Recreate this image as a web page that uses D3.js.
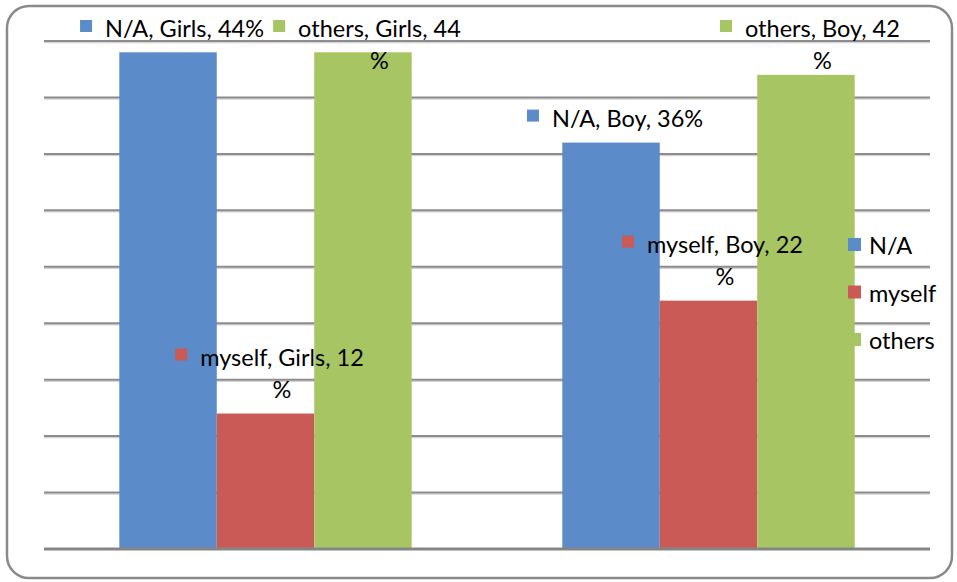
<!DOCTYPE html>
<html>
<head>
<meta charset="utf-8">
<script src="https://cdn.jsdelivr.net/npm/d3@7"></script>
<style>
  html, body { margin: 0; padding: 0; background: #fff; }
  svg { display: block; font-family: Lato, "Open Sans", sans-serif; }
</style>
</head>
<body>
<svg id="chart" width="957" height="582"></svg>
<script>
'use strict';

// chart data
const categories = ['Girls', 'Boy'];
const seriesNames = ['N/A', 'myself', 'others'];
const seriesColors = ['#5B8BC8', '#C95A55', '#A7C663'];
const girlsValues = [44, 12, 44];
const boyValues = [36, 22, 42];
const yTicks = [0, 5, 10, 15, 20, 25, 30, 35, 40, 45];

const valuesByCat = { Girls: girlsValues, Boy: boyValues };

const svg = d3.select('#chart');
const fontSize = 23.5;

// outer frame
svg.append('rect')
  .attr('x', 7).attr('y', 6)
  .attr('width', 945).attr('height', 572)
  .attr('rx', 22).attr('ry', 22)
  .attr('fill', '#fff')
  .attr('stroke', '#8a8a8a')
  .attr('stroke-width', 2.5);

const x0 = d3.scaleBand()
  .domain(categories)
  .range([44, 930])
  .paddingInner(0.34)
  .paddingOuter(0.17);

const x1 = d3.scaleBand()
  .domain(seriesNames)
  .range([0, x0.bandwidth()]);

const y = d3.scaleLinear()
  .domain([0, 45])
  .range([549, 41]);

// gridlines (with a soft shadow under each)
const grid = svg.append('g');
grid.selectAll('line.shadow')
  .data(yTicks.slice(1))
  .enter().append('line')
  .attr('class', 'shadow')
  .attr('x1', 44).attr('x2', 930)
  .attr('y1', d => y(d) + 1.5).attr('y2', d => y(d) + 1.5)
  .attr('stroke', '#d4d4d4')
  .attr('stroke-width', 1.5);
grid.selectAll('line.main')
  .data(yTicks.slice(1))
  .enter().append('line')
  .attr('class', 'main')
  .attr('x1', 44).attr('x2', 930)
  .attr('y1', d => y(d)).attr('y2', d => y(d))
  .attr('stroke', '#8c8c8c')
  .attr('stroke-width', 2);

// bars
const groups = svg.append('g').selectAll('g')
  .data(categories)
  .enter().append('g')
  .attr('transform', d => 'translate(' + x0(d) + ',0)');

groups.selectAll('rect')
  .data(c => seriesNames.map((s, i) => ({ cat: c, series: s, value: valuesByCat[c][i], color: seriesColors[i] })))
  .enter().append('rect')
  .attr('x', d => x1(d.series))
  .attr('y', d => y(d.value))
  .attr('width', x1.bandwidth())
  .attr('height', d => y(0) - y(d.value))
  .attr('fill', d => d.color);

// baseline
svg.append('line')
  .attr('x1', 44).attr('x2', 930)
  .attr('y1', y(0)).attr('y2', y(0))
  .attr('stroke', '#858585')
  .attr('stroke-width', 3);

// data labels: "series, category, value%" with a colour key square
const labelData = [];
categories.forEach(c => {
  seriesNames.forEach((s, i) => {
    labelData.push({ cat: c, series: s, value: valuesByCat[c][i], color: seriesColors[i] });
  });
});

const labels = svg.append('g');
labelData.forEach(d => {
  const cx = x0(d.cat) + x1(d.series) + x1.bandwidth() / 2 + 4;
  const top = y(d.value);
  const g = labels.append('g');
  const full = d.series + ', ' + d.cat + ', ' + d.value + '%';
  const t = g.append('text')
    .attr('font-size', fontSize)
    .attr('fill', '#000')
    .attr('dominant-baseline', 'central')
    .text(full);
  let wrapped = false;
  // long labels push the % sign onto a second line
  if (t.node().getComputedTextLength() > 168) {
    wrapped = true;
    t.text(d.series + ', ' + d.cat + ', ' + d.value);
  }
  const tw = t.node().getComputedTextLength();
  const total = 12 + 13 + tw;
  const left = cx - total / 2;
  let yLine1 = wrapped ? top - 25 - 32 : top - 25;
  yLine1 = Math.max(yLine1, 28);
  g.append('rect')
    .attr('x', left).attr('y', yLine1 - 8)
    .attr('width', 12).attr('height', 12)
    .attr('fill', d.color);
  t.attr('x', left + 25).attr('y', yLine1);
  if (wrapped) {
    g.append('text')
      .attr('font-size', fontSize)
      .attr('fill', '#000')
      .attr('dominant-baseline', 'central')
      .attr('text-anchor', 'middle')
      .attr('x', left + 25 + tw / 2)
      .attr('y', yLine1 + 32)
      .text('%');
  }
});

// legend
const legend = svg.append('g')
  .selectAll('g')
  .data(seriesNames)
  .enter().append('g')
  .attr('transform', (d, i) => 'translate(848,' + (245 + i * 47.5) + ')');
legend.append('rect')
  .attr('x', 0).attr('y', -7)
  .attr('width', 13).attr('height', 13)
  .attr('fill', (d, i) => seriesColors[i]);
legend.append('text')
  .attr('x', 21).attr('y', 0)
  .attr('dominant-baseline', 'central')
  .attr('font-size', fontSize)
  .attr('fill', '#000')
  .text(d => d);
</script>
</body>
</html>
